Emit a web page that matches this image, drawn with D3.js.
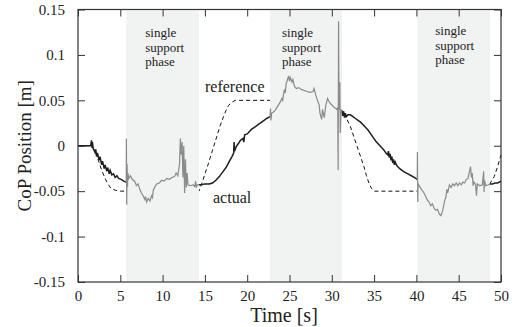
<!DOCTYPE html>
<html lang="en">
<head>
<meta charset="UTF-8">
<title>CoP Position</title>
<script src="https://d3js.org/d3.v7.min.js"></script>
<style>
  body { margin: 0; background: #fff; }
  svg text { font-family: "Liberation Serif", "Times New Roman", serif; fill: #222; }
</style>
</head>
<body>
<div id="chart"></div>
<script>
const width = 512;
const height = 327;

// single support phases [start, end] in seconds
const phases = [[5.7, 14.3], [22.7, 31.2], [40.1, 48.7]];

const xTicks = [0, 5, 10, 15, 20, 25, 30, 35, 40, 45, 50];
const yTicks = [-0.15, -0.1, -0.05, 0, 0.05, 0.1, 0.15];
const yTickLabels = ["-0.15", "-0.1", "-0.05", "0", "0.05", "0.1", "0.15"];

// reference CoP trajectory
const refT = [0, 1.5, 2.0, 2.4, 2.8, 3.2, 3.6, 3.9, 4.4, 5.1, 14.3, 14.7, 15.0, 15.4, 15.9, 16.4, 16.8, 17.2, 17.5, 17.8, 18.2, 18.6,
  30.4, 30.8, 31.2, 31.7, 32.2, 32.6, 33.0, 33.4, 33.8, 34.1, 34.4, 34.7, 35.0, 48.1, 48.4, 48.8, 49.2, 49.6, 50];
const refV = [0, 0, -0.005, -0.016, -0.027, -0.036, -0.043, -0.047, -0.049, -0.05, -0.05, -0.04, -0.031, -0.02, -0.005, 0.01, 0.022, 0.032, 0.039, 0.0445, 0.048, 0.05,
  0.05, 0.045, 0.039, 0.031, 0.021, 0.01, -0.001, -0.012, -0.023, -0.033, -0.0415, -0.047, -0.05, -0.05, -0.045, -0.04, -0.034, -0.023, -0.01];

// measured CoP trajectory
const actT = [
  0, 1.0, 1.5, 1.6, 1.65, 1.7, 1.8, 2.0, 2.1, 2.2, 2.3, 2.5, 2.6, 2.8, 2.9, 3.1, 3.2, 3.4, 3.5, 3.7, 3.8, 4.0, 4.2, 4.4, 4.6, 4.8, 5.1, 5.4, 5.7,
  5.72, 5.76, 5.8, 5.85, 5.9, 6.0, 6.2, 6.4, 6.7, 6.9, 7.1, 7.3, 7.5, 7.7, 7.9, 8.0, 8.1, 8.3, 8.5, 8.7, 8.8, 8.9, 9.1, 9.3, 9.6, 9.9, 10.2, 10.5, 10.8, 11.1, 11.4, 11.6, 11.8,
  12.0, 12.1, 12.2, 12.3, 12.4, 12.5, 12.6, 12.7, 12.8, 12.9, 13.0, 13.3, 13.6, 13.8, 13.9, 14.0, 14.1, 14.3,
  14.6, 15.0, 15.5, 15.9, 16.3, 16.7, 17.1, 17.5, 17.9, 18.2, 18.4, 18.45, 18.5, 18.7, 19.0, 19.2, 19.5, 19.6, 19.7, 20.0, 20.3, 20.5, 20.8, 21.1, 21.4, 21.7, 22.0, 22.3, 22.7,
  22.75, 22.8, 22.9, 23.1, 23.3, 23.5, 23.7, 23.9, 24.1, 24.2, 24.3, 24.4, 24.5, 24.6, 24.8, 24.9, 25.0, 25.1, 25.3, 25.4, 25.6, 25.8, 26.1, 26.4, 26.7, 27.0, 27.3, 27.6, 27.8, 27.9,
  28.1, 28.3, 28.5, 28.6, 28.8, 28.9, 29.1, 29.3, 29.5, 29.7, 29.9, 30.1, 30.3, 30.5, 30.6, 30.7, 30.75, 30.8, 30.85, 30.95, 31.0, 31.1, 31.2,
  31.3, 31.4, 31.5, 31.6, 31.7, 31.9, 32.2, 32.5, 32.8, 33.1, 33.4, 33.7, 34.0, 34.3, 34.6, 34.9, 35.2, 35.5, 35.8, 36.1, 36.4, 36.6, 36.7, 36.8, 36.9, 37.0, 37.1, 37.2, 37.3, 37.4, 37.5, 37.7,
  38.0, 38.3, 38.6, 39.0, 39.4, 39.8, 40.1,
  40.12, 40.16, 40.2, 40.4, 40.6, 40.9, 41.1, 41.3, 41.5, 41.7, 41.9, 42.1, 42.3, 42.5, 42.7, 42.9, 43.1, 43.3, 43.5, 43.6, 43.7, 43.9, 44.1, 44.3, 44.5, 44.7, 44.9, 45.1, 45.3, 45.5, 45.7, 45.9,
  46.1, 46.3, 46.4, 46.5, 46.6, 46.7, 46.8, 47.0, 47.1, 47.2, 47.5, 47.8, 47.95, 48.0, 48.05, 48.2, 48.5, 48.7,
  49.0, 49.3, 49.6, 50];
const actV = [
  0, 0, 0, 0.006, -0.002, 0.004, -0.003, -0.007, -0.004, -0.012, -0.008, -0.016, -0.012, -0.021, -0.017, -0.025, -0.021, -0.028, -0.024, -0.031, -0.027, -0.032, -0.031, -0.035, -0.033, -0.036, -0.037, -0.039, -0.040,
  0.008, -0.065, -0.02, -0.045, -0.03, -0.036, -0.033, -0.037, -0.039, -0.044, -0.042, -0.048, -0.052, -0.055, -0.059, -0.056, -0.062, -0.058, -0.061, -0.055, -0.057, -0.049, -0.045, -0.042, -0.041, -0.038, -0.039, -0.036, -0.037, -0.035, -0.034, -0.030, -0.033,
  -0.020, 0.008, -0.01, 0.004, -0.035, 0.0, -0.052, -0.015, -0.046, -0.03, -0.043, -0.044, -0.043, -0.045, -0.039, -0.046, -0.043, -0.043,
  -0.043, -0.042, -0.042, -0.041, -0.038, -0.034, -0.029, -0.024, -0.017, -0.012, -0.008, 0.004, -0.006, -0.001, 0.003, 0.006, 0.008, 0.004, 0.012, 0.013, 0.016, 0.018, 0.020, 0.022, 0.024, 0.026, 0.028, 0.030, 0.032,
  0.041, 0.028, 0.036, 0.037, 0.039, 0.042, 0.045, 0.048, 0.052, 0.050, 0.057, 0.062, 0.058, 0.068, 0.074, 0.077, 0.071, 0.075, 0.070, 0.073, 0.065, 0.063, 0.064, 0.062, 0.061, 0.060, 0.059, 0.059, 0.060, 0.063,
  0.056, 0.050, 0.045, 0.036, 0.029, 0.040, 0.031, 0.045, 0.052, 0.048, 0.046, 0.044, 0.042, 0.041, 0.040, 0.042, -0.027, 0.137, 0.040, 0.070, 0.014, 0.040, 0.038,
  0.033, 0.038, 0.031, 0.036, 0.032, 0.034, 0.034, 0.032, 0.030, 0.028, 0.026, 0.023, 0.020, 0.017, 0.013, 0.009, 0.005, 0.002, -0.001, -0.004, -0.008, -0.010, -0.006, -0.013, -0.009, -0.016, -0.012, -0.019, -0.015, -0.021, -0.018, -0.022,
  -0.025, -0.027, -0.029, -0.031, -0.033, -0.035, -0.037,
  -0.007, -0.062, -0.042, -0.045, -0.048, -0.052, -0.056, -0.060, -0.062, -0.066, -0.064, -0.069, -0.071, -0.070, -0.075, -0.077, -0.072, -0.062, -0.056, -0.048, -0.052, -0.043, -0.046, -0.042, -0.044, -0.041, -0.044, -0.041, -0.043, -0.040, -0.041, -0.037,
  -0.036, -0.027, -0.023, -0.035, -0.030, -0.044, -0.040, -0.043, -0.055, -0.042, -0.044, -0.043, -0.028, -0.051, -0.038, -0.044, -0.043, -0.042,
  -0.042, -0.041, -0.041, -0.039];

const margin = { top: 9.5, right: 11, bottom: 45, left: 78 };
const serif = "Liberation Serif, Times New Roman, serif";

const svg = d3.select("#chart")
  .append("svg")
  .attr("width", width)
  .attr("height", height)
  .style("display", "block");

const x = d3.scaleLinear()
  .domain([0, 50])
  .range([margin.left, width - margin.right]);

const y = d3.scaleLinear()
  .domain([-0.15, 0.15])
  .range([height - margin.bottom, margin.top]);

const refData = refT.map((t, i) => ({ t: t, v: refV[i] }));
const actData = actT.map((t, i) => ({ t: t, v: actV[i] }));

const inPhase = t => phases.some(p => t >= p[0] && t <= p[1]);
const outPhase = t => phases.every(p => t <= p[0] || t >= p[1]);

const line = () => d3.line()
  .x(d => x(d.t))
  .y(d => y(d.v));

// reference first, the shaded phases sit on top of it
svg.append("path")
  .datum(refData)
  .attr("fill", "none")
  .attr("stroke", "#111")
  .attr("stroke-width", 1)
  .attr("stroke-dasharray", "4,3")
  .attr("d", line());

svg.selectAll(".phase")
  .data(phases)
  .enter()
  .append("rect")
  .attr("class", "phase")
  .attr("x", d => x(d[0]))
  .attr("y", y(0.15) + 1)
  .attr("width", d => x(d[1]) - x(d[0]))
  .attr("height", y(-0.15) - y(0.15) - 2)
  .attr("fill", "#f1f2f2");

// actual: black in double support, gray in single support
svg.append("path")
  .datum(actData)
  .attr("fill", "none")
  .attr("stroke", "#1e1e1e")
  .attr("stroke-width", 1.5)
  .attr("d", line().defined(d => outPhase(d.t)));

svg.append("path")
  .datum(actData)
  .attr("fill", "none")
  .attr("stroke", "#8a8a8a")
  .attr("stroke-width", 1.2)
  .attr("d", line().defined(d => inPhase(d.t)));

// axes with inward ticks on all four sides
const tickLen = 7;
svg.append("g")
  .attr("transform", `translate(0, ${y(-0.15)})`)
  .call(d3.axisBottom(x).tickValues(xTicks).tickSizeInner(-tickLen).tickSizeOuter(0).tickPadding(8))
  .call(g => g.selectAll("text").attr("font-size", 15).attr("dy", "0.75em"));

svg.append("g")
  .attr("transform", `translate(0, ${y(0.15)})`)
  .call(d3.axisTop(x).tickValues(xTicks).tickSizeInner(-tickLen).tickSizeOuter(0).tickFormat(""));

svg.append("g")
  .attr("transform", `translate(${x(0)}, 0)`)
  .call(d3.axisLeft(y).tickValues(yTicks).tickSizeInner(-tickLen).tickSizeOuter(0).tickPadding(13)
    .tickFormat((d, i) => yTickLabels[i]))
  .call(g => g.selectAll("text").attr("font-size", 15));

svg.append("g")
  .attr("transform", `translate(${x(50)}, 0)`)
  .call(d3.axisRight(y).tickValues(yTicks).tickSizeInner(-tickLen).tickSizeOuter(0).tickFormat(""));

svg.selectAll("g").attr("font-family", serif);
svg.selectAll(".domain").remove();
svg.selectAll(".tick line").attr("stroke", "#333");
svg.selectAll(".tick text").attr("fill", "#222");

svg.append("rect")
  .attr("x", x(0))
  .attr("y", y(0.15))
  .attr("width", x(50) - x(0))
  .attr("height", y(-0.15) - y(0.15))
  .attr("fill", "none")
  .attr("stroke", "#333")
  .attr("stroke-width", 1.2);

// phase labels
const phaseLabel = svg.selectAll(".phase-label")
  .data(phases)
  .enter()
  .append("text")
  .attr("class", "phase-label")
  .attr("font-size", 13);

phaseLabel.each(function (d, i) {
  const t = d3.select(this);
  const lx = x(d[0]) + 19 - (i === 1 ? 7 : 0) - (i === 2 ? 1 : 0);
  const ly = i === 2 ? 35 : 37;
  ["single", "support", "phase"].forEach((w, k) => {
    t.append("tspan").attr("x", lx).attr("y", ly + k * 14.7).text(w);
  });
});

svg.append("text")
  .attr("x", 205)
  .attr("y", 92)
  .attr("font-size", 16)
  .text("reference");

svg.append("text")
  .attr("x", 213)
  .attr("y", 203)
  .attr("font-size", 16)
  .text("actual");

// axis titles
svg.append("text")
  .attr("x", 284)
  .attr("y", 322)
  .attr("text-anchor", "middle")
  .attr("font-size", 20)
  .text("Time [s]");

svg.append("text")
  .attr("transform", `translate(31, ${y(0)}) rotate(-90)`)
  .attr("text-anchor", "middle")
  .attr("font-size", 19)
  .text("CoP Position [m]");
</script>
</body>
</html>
